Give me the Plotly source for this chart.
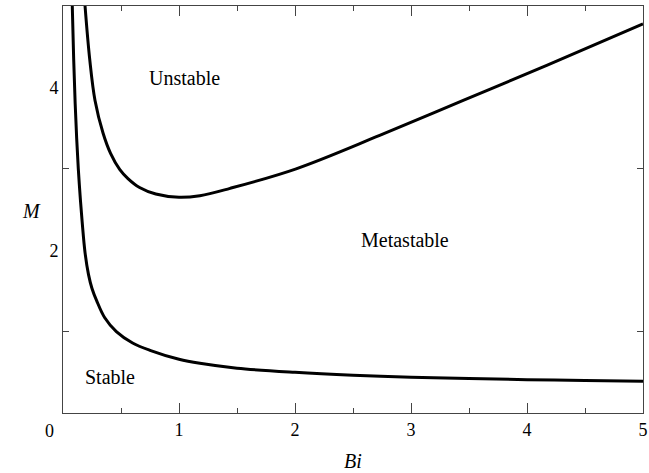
import plotly.graph_objects as go

# stability boundaries
bi_lower = [0.080, 0.092, 0.105, 0.118, 0.132, 0.147, 0.165, 0.19, 0.22, 0.25, 0.29, 0.36, 0.46, 0.6, 0.75, 1.0, 1.18, 1.5, 2.0, 2.5, 3.0, 3.5, 4.0, 4.5, 5.0]
m_lower = [5.0, 4.35, 3.8, 3.37, 3.0, 2.68, 2.35, 1.97, 1.70, 1.53, 1.38, 1.17, 1.0, 0.86, 0.77, 0.66, 0.61, 0.55, 0.50, 0.465, 0.44, 0.425, 0.41, 0.40, 0.39]

bi_upper = [0.19, 0.23, 0.276, 0.345, 0.41, 0.49, 0.56, 0.66, 0.8, 1.0, 1.18, 1.44, 2.01, 2.73, 3.45, 4.17, 5.0]
m_upper = [5.0, 4.35, 3.84, 3.44, 3.19, 2.99, 2.88, 2.77, 2.69, 2.65, 2.67, 2.76, 3.0, 3.41, 3.84, 4.27, 4.78]

regions = ["Unstable", "Metastable", "Stable"]
region_bi = [1.05, 2.95, 0.405]
region_m = [4.11, 2.12, 0.44]

serif = "Liberation Serif"

fig = go.Figure()
fig.add_trace(go.Scatter(x=bi_lower, y=m_lower, mode="lines",
                         line=dict(color="black", width=3, shape="spline", smoothing=1)))
fig.add_trace(go.Scatter(x=bi_upper, y=m_upper, mode="lines",
                         line=dict(color="black", width=3, shape="spline", smoothing=1)))

for name, xb, ym in zip(regions, region_bi, region_m):
    fig.add_annotation(x=xb, y=ym, text=name, showarrow=False,
                       font=dict(family=serif, size=20, color="black"))

# corner zero and axis titles
fig.add_annotation(x=0, y=0, text="0", showarrow=False, xshift=-14, yshift=-18,
                   font=dict(family=serif, size=18, color="black"))
fig.add_annotation(x=0.5, xref="paper", y=0, yref="paper", text="<i>Bi</i>",
                   showarrow=False, yanchor="top", yshift=-35,
                   font=dict(family=serif, size=20, color="black"))
fig.add_annotation(x=0, xref="paper", y=2.48, text="<i>M</i>", showarrow=False,
                   xshift=-43, font=dict(family=serif, size=20, color="black"))

fig.update_xaxes(range=[0, 5], tickvals=[1, 2, 3, 4, 5], ticks="inside", ticklen=10,
                 tickcolor="#444", showline=True, linecolor="#444", linewidth=1,
                 mirror="ticks", showgrid=False, zeroline=False, automargin=False,
                 ticklabeloverflow="allow",
                 minor=dict(tickvals=[0.5, 1.5, 2.5, 3.5, 4.5], ticks="inside",
                            ticklen=5, tickcolor="#444"),
                 tickfont=dict(family=serif, size=18, color="black"))
fig.update_yaxes(range=[0, 5], tickvals=[2, 4], ticks="", showline=True,
                 linecolor="#444", linewidth=1, mirror="ticks", showgrid=False,
                 zeroline=False, automargin=False,
                 minor=dict(tickvals=[1, 3], ticks="inside", ticklen=6, tickcolor="#444"),
                 tickfont=dict(family=serif, size=18, color="black"))

fig.update_layout(width=649, height=473, showlegend=False,
                  plot_bgcolor="white", paper_bgcolor="white",
                  margin=dict(l=63, r=6, t=6, b=60))

# drop the page's default body margin so the figure sits at the window corner
fig.write_html("out.html", config={"displayModeBar": False},
               post_script="document.body.style.margin='0';")
